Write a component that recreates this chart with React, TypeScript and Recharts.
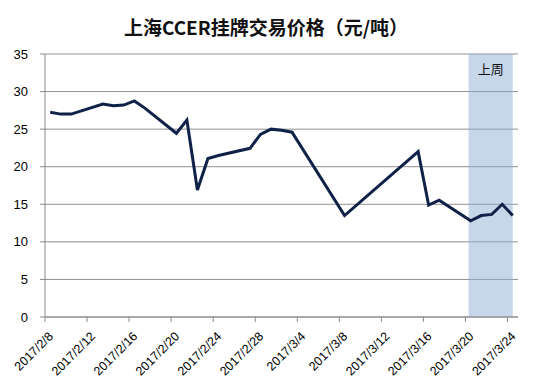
import React from 'react';
import { LineChart, Line, XAxis, YAxis, CartesianGrid, ReferenceArea, Label } from 'recharts';

const title = '上海CCER挂牌交易价格（元/吨）';
const dates = [
  '2017/2/8', '2017/2/9', '2017/2/10', '2017/2/13', '2017/2/14', '2017/2/15', '2017/2/16', '2017/2/17',
  '2017/2/20', '2017/2/21', '2017/2/22', '2017/2/23', '2017/2/24', '2017/2/27', '2017/2/28',
  '2017/3/1', '2017/3/2', '2017/3/3', '2017/3/8', '2017/3/15', '2017/3/16', '2017/3/17',
  '2017/3/20', '2017/3/21', '2017/3/22', '2017/3/23', '2017/3/24',
];
const prices = [
  27.25, 27.0, 27.0, 28.35, 28.1, 28.2, 28.75, 27.8,
  24.45, 26.2, 16.9, 21.1, 21.5, 22.45, 24.3,
  25.0, 24.85, 24.6, 13.5, 22.0, 14.9, 15.55,
  12.8, 13.5, 13.65, 15.0, 13.5,
];
const tickLabels = [
  '2017/2/8', '2017/2/12', '2017/2/16', '2017/2/20', '2017/2/24', '2017/2/28',
  '2017/3/4', '2017/3/8', '2017/3/12', '2017/3/16', '2017/3/20', '2017/3/24',
];
const axisEnd = '2017/3/25';
const yTicks = [0, 5, 10, 15, 20, 25, 30, 35];
const lastWeek = ['2017/3/20', '2017/3/24'];
const lastWeekLabel = '上周';

const dayIndex = (s: string) => {
  const [y, m, d] = s.split('/').map(Number);
  const base = Date.UTC(2017, 1, 8);
  return Math.round((Date.UTC(y, m - 1, d) - base) / 86400000);
};

const data = dates.map((d, i) => ({ x: dayIndex(d) + 0.5, price: prices[i] }));
const xTicks = tickLabels.map(dayIndex);
const labelByIndex: Record<number, string> = {};
tickLabels.forEach((t) => { labelByIndex[dayIndex(t)] = t; });

const XTick = (props: any) => {
  const { x, y, payload } = props;
  const tx = x + 9;
  const ty = y + 13;
  return (
    <text x={tx} y={ty} textAnchor="end" fontSize={12.5} fill="#000" fontFamily="Liberation Sans, Arial, sans-serif"
      transform={`rotate(-45, ${tx}, ${ty})`}>
      {labelByIndex[payload.value]}
    </text>
  );
};

export default function App() {
  return (
    <div style={{ position: 'absolute', left: 0, top: 0, width: 538, height: 385, background: '#fff' }}>
      <div style={{
        position: 'absolute', left: 0, top: 16, width: 532, textAlign: 'center',
        fontFamily: '"Noto Sans CJK SC", sans-serif', fontWeight: 700, fontSize: 19, lineHeight: '21px', color: '#111',
      }}>{title}</div>
      <LineChart width={538} height={385} data={data} margin={{ top: 54, right: 20, bottom: 8, left: 0 }}>
        <CartesianGrid vertical={false} stroke="#8f8f8f" strokeWidth={1} />
        <ReferenceArea x1={dayIndex(lastWeek[0]) + 0.3} x2={dayIndex(lastWeek[1]) + 0.5} y1={0} y2={35}
          fill="#8fb0d6" fillOpacity={0.5} stroke="none" ifOverflow="visible">
          <Label value={lastWeekLabel} position="insideTop" offset={11} fontSize={13} fill="#111"
            fontFamily='"Noto Sans CJK SC", sans-serif' />
        </ReferenceArea>
        <XAxis dataKey="x" type="number" domain={[0, dayIndex(axisEnd)]} ticks={xTicks} interval={0}
          height={60} tickSize={5} tickMargin={2} stroke="#8a8a8a" tick={<XTick />} allowDataOverflow />
        <YAxis type="number" domain={[0, 35]} ticks={yTicks} width={45} tickSize={5} tickMargin={12}
          stroke="#8a8a8a" tick={{ fill: '#000', fontSize: 13, fontFamily: 'Liberation Sans, Arial, sans-serif' }} interval={0} />
        <Line type="linear" dataKey="price" stroke="#0f2147" strokeWidth={3} dot={false} isAnimationActive={false} />
      </LineChart>
    </div>
  );
}
